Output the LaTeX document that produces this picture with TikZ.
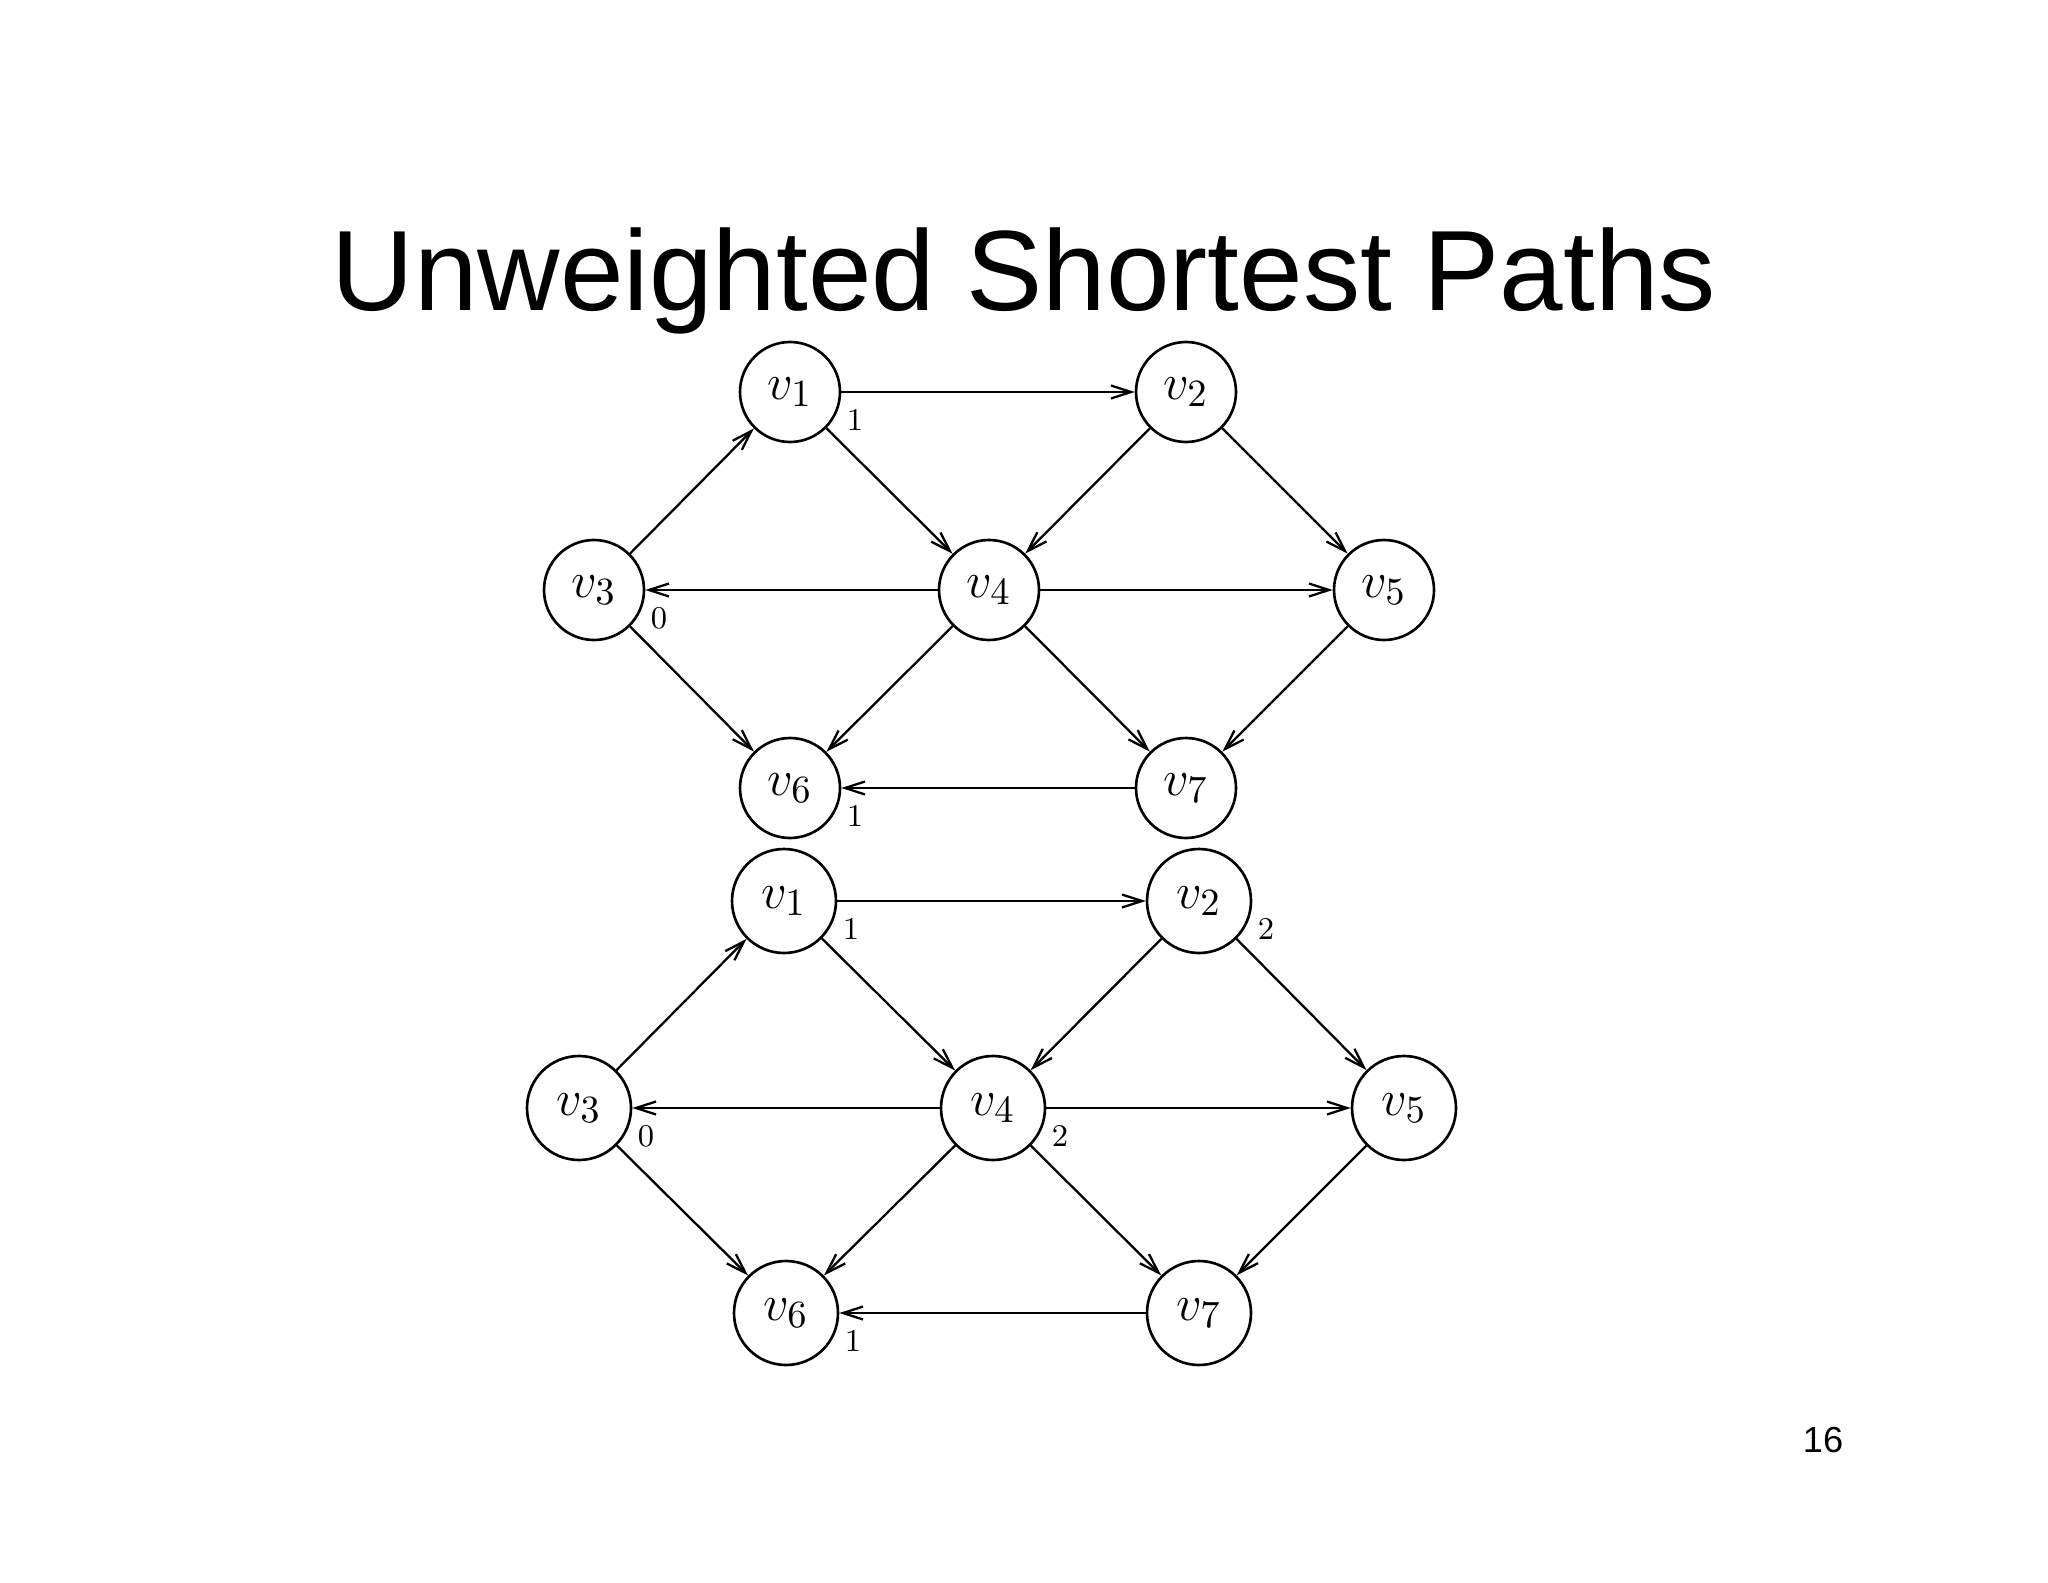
\documentclass[tikz,border=0pt]{standalone}
\usepackage{fontspec}
\usepackage{tikz}
\usetikzlibrary{arrows.meta}
\newfontfamily\slidefont{Liberation Sans}

\begin{document}
\begin{tikzpicture}[x=0.1mm, y=0.1mm,
    vertex/.style={draw, circle, line width=0.75pt, minimum size=10mm, inner sep=0pt, font=\fontsize{15}{18}\selectfont},
    bigvertex/.style={vertex, minimum size=10.4mm},
    dist/.style={font=\fontsize{9}{10}\selectfont, inner sep=1pt},
    edge/.style={-{Straight Barb[length=2mm, width=1.3mm]}, line width=0.65pt}]
\useasboundingbox (0,0) rectangle (2048,1582);

\node[font=\slidefont\fontsize{32.5}{38}\selectfont, anchor=base] (title) at (1024,1272) {Unweighted Shortest Paths};
\node[font=\slidefont\fontsize{10.3}{12}\selectfont, anchor=base] (page) at (1823,130) {16};

% first graph
\node[vertex, label={[dist, label distance=0.3mm]-14:1}] (v1_top) at (790,1190) {$v_1$};
\node[vertex] (v2_top) at (1186,1190) {$v_2$};
\node[vertex, label={[dist, label distance=0.3mm]-14:0}] (v3_top) at (594,992) {$v_3$};
\node[vertex] (v4_top) at (989,992) {$v_4$};
\node[vertex] (v5_top) at (1384,992) {$v_5$};
\node[vertex, label={[dist, label distance=0.3mm]-14:1}] (v6_top) at (790,794) {$v_6$};
\node[vertex] (v7_top) at (1186,794) {$v_7$};

\draw[edge] (v1_top) -- (v2_top);
\draw[edge] (v1_top) -- (v4_top);
\draw[edge] (v2_top) -- (v4_top);
\draw[edge] (v2_top) -- (v5_top);
\draw[edge] (v3_top) -- (v1_top);
\draw[edge] (v3_top) -- (v6_top);
\draw[edge] (v4_top) -- (v3_top);
\draw[edge] (v4_top) -- (v5_top);
\draw[edge] (v4_top) -- (v6_top);
\draw[edge] (v4_top) -- (v7_top);
\draw[edge] (v5_top) -- (v7_top);
\draw[edge] (v7_top) -- (v6_top);

% second graph
\node[bigvertex, label={[dist, label distance=0.3mm]-14:1}] (v1_bot) at (784,681) {$v_1$};
\node[bigvertex, label={[dist, label distance=0.3mm]-14:2}] (v2_bot) at (1199,681) {$v_2$};
\node[bigvertex, label={[dist, label distance=0.3mm]-14:0}] (v3_bot) at (579,474) {$v_3$};
\node[bigvertex, label={[dist, label distance=0.3mm]-14:2}] (v4_bot) at (993,474) {$v_4$};
\node[bigvertex] (v5_bot) at (1404,474) {$v_5$};
\node[bigvertex, label={[dist, label distance=0.3mm]-14:1}] (v6_bot) at (786,269) {$v_6$};
\node[bigvertex] (v7_bot) at (1199,269) {$v_7$};

\draw[edge] (v1_bot) -- (v2_bot);
\draw[edge] (v1_bot) -- (v4_bot);
\draw[edge] (v2_bot) -- (v4_bot);
\draw[edge] (v2_bot) -- (v5_bot);
\draw[edge] (v3_bot) -- (v1_bot);
\draw[edge] (v3_bot) -- (v6_bot);
\draw[edge] (v4_bot) -- (v3_bot);
\draw[edge] (v4_bot) -- (v5_bot);
\draw[edge] (v4_bot) -- (v6_bot);
\draw[edge] (v4_bot) -- (v7_bot);
\draw[edge] (v5_bot) -- (v7_bot);
\draw[edge] (v7_bot) -- (v6_bot);

\end{tikzpicture}
\end{document}
